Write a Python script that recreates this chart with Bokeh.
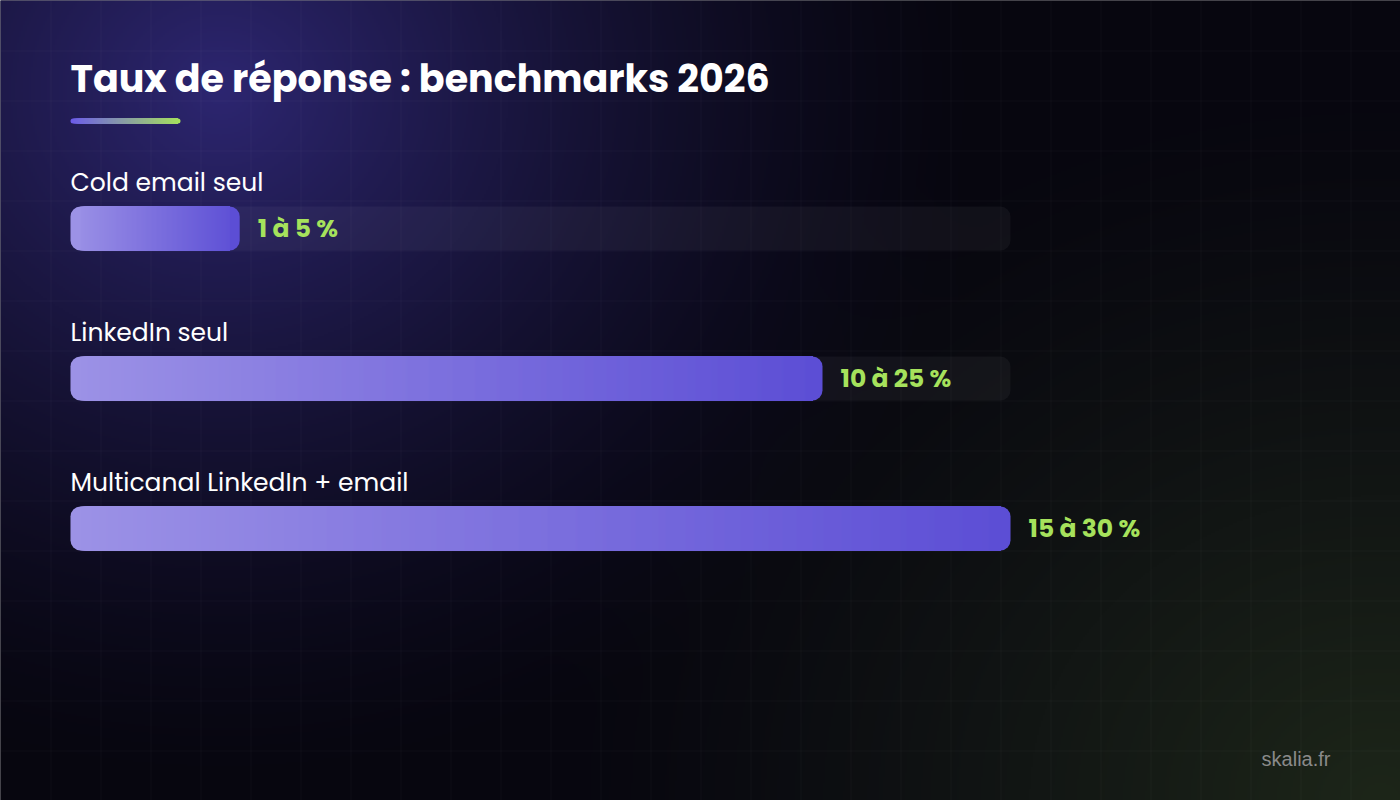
import numpy as np
from bokeh.plotting import figure
from bokeh.models import Range1d
from bokeh.core.properties import value
from bokeh.embed import file_html
from bokeh.resources import INLINE

# ---- data ----
title = "Taux de réponse : benchmarks 2026"
categories = ["Cold email seul", "LinkedIn seul", "Multicanal LinkedIn + email"]
range_labels = ["1 à 5 %", "10 à 25 %", "15 à 30 %"]
fill_pct = [18, 80, 100]          # bar length, % of track
watermark = "skalia.fr"

# ---- layout ----
W, H = 1400, 800
LEFT = 70          # pixel where 0 % sits
TRACK = 940        # pixels for 100 %
ROW0 = 228         # pixel centre of first bar
ROWGAP = 150       # pixels between rows
BAR_H = 44
RAD = 10
PXX = TRACK / 100.0
PXY = float(ROWGAP)

x0 = -LEFT / PXX
x1 = (W - LEFT) / PXX
ytop = ROW0 / PXY
ybot = -(H - ROW0) / PXY


def px(x):
    return (x - LEFT) / PXX


def py(y):
    return -(y - ROW0) / PXY


p = figure(width=W, height=H, x_range=Range1d(x0, x1), y_range=Range1d(ybot, ytop),
           x_axis_type=None, y_axis_type=None, toolbar_location=None,
           output_backend="svg", min_border=0, outline_line_color=None,
           background_fill_color="#07060f", border_fill_color="#07060f")
p.xgrid.visible = False
p.ygrid.visible = False


def pack(rgba):
    rgba = np.clip(rgba, 0, 255).astype(np.uint8)
    return rgba.view(dtype=np.uint32).reshape(rgba.shape[:2])


def hexc(c):
    return "#%02x%02x%02x" % tuple(int(round(v)) for v in c)


# ---- background (decoration) ----
s = 2
pad = 6
bw, bh = (W + 2 * pad) // s, (H + 2 * pad) // s
gx, gy = np.meshgrid((np.arange(bw) + 0.5) * s - pad, (np.arange(bh) + 0.5) * s - pad)
base = np.array([7, 6, 15], dtype=float)
d1 = np.hypot(gx - 220, (gy - 90) * 1.1)
f1 = np.clip(1 - d1 / 780, 0, 1) ** 1.5
d2 = np.hypot((gx - 1380) * 1.0, (gy - 800) * 1.15)
f2 = np.clip(1 - d2 / 850, 0, 1) ** 1.3
img = np.zeros((bh, bw, 4))
img[..., :3] = base + f1[..., None] * np.array([38, 32, 98]) + f2[..., None] * np.array([22, 32, 10])
img[..., 3] = 255
bg = np.flipud(pack(img))
p.image_rgba(image=[bg], x=px(-pad), y=py(H + pad), dw=(W + 2 * pad) / PXX, dh=(H + 2 * pad) / PXY)

# grid lines
xs, ys = [], []
for gxp in range(50, W, 50):
    xs.append([px(gxp + 0.5), px(gxp + 0.5)])
    ys.append([ybot, ytop])
for gyp in range(50, H, 50):
    xs.append([x0, x1])
    ys.append([py(gyp + 0.5), py(gyp + 0.5)])
p.multi_line(xs=xs, ys=ys, line_color="white", line_alpha=0.035, line_width=1)


def gradient_bar(left, right, yc, height, c0, c1, r):
    """Rounded bar between data x left/right with a horizontal colour gradient."""
    c0 = np.array(c0, float)
    c1 = np.array(c1, float)
    lp = LEFT + left * PXX
    rp = LEFT + right * PXX
    wpx = rp - lp
    rd = r / PXX
    # rounded end caps
    p.hbar(y=[yc], left=[left], right=[left + 2 * rd], height=height,
           fill_color=hexc(c0), line_color=None, border_radius=int(r))
    p.hbar(y=[yc], left=[right - 2 * rd], right=[right], height=height,
           fill_color=hexc(c1), line_color=None, border_radius=int(r))
    # overlapping strips, each running to the right cap, drawn left to right
    edges = np.arange(np.floor(lp + r), np.ceil(rp - r))
    lefts = [(e - LEFT) / PXX for e in edges]
    end = right - rd
    t = (edges + 0.5 - lp) / wpx
    cols = [hexc(c0 + (c1 - c0) * tt) for tt in t]
    p.hbar(y=[yc] * len(lefts), left=lefts, right=[end] * len(lefts), height=height,
           fill_color=cols, line_color=None)


# ---- title & accent ----
p.text(x=[px(70)], y=[py(78)], text=[title], text_color="white",
       text_font=value("Poppins, Inter"), text_font_style="bold",
       text_font_size="38px", text_baseline="middle", text_align="left")
gradient_bar(px(70), px(180), py(120.5), 5 / PXY, (108, 92, 232), (166, 226, 92), 3)

# ---- bars ----
hd = BAR_H / PXY
rows = [-i for i in range(len(categories))]
p.hbar(y=rows, left=0, right=100, height=hd, fill_color="white", fill_alpha=0.045,
       line_color=None, border_radius=RAD)

for i, pct in enumerate(fill_pct):
    gradient_bar(0, pct, rows[i], hd, (156, 146, 230), (92, 78, 213), RAD)

p.text(x=[0] * 3, y=[r + 46 / PXY for r in rows], text=categories, text_color="white",
       text_font=value("Poppins, Inter"), text_font_size="25px",
       text_baseline="middle", text_align="left")
p.text(x=[v + 18 / PXX for v in fill_pct], y=rows, text=range_labels, text_color="#a6e25c",
       text_font=value("Poppins, Inter"), text_font_style="bold", text_font_size="25px",
       text_baseline="middle", text_align="left")

p.text(x=[px(1330)], y=[py(758)], text=[watermark], text_color="#8a8a8a",
       text_font=value("Liberation Sans"), text_font_size="20px",
       text_baseline="middle", text_align="right")

open("out.html", "w").write(file_html(p, INLINE))
